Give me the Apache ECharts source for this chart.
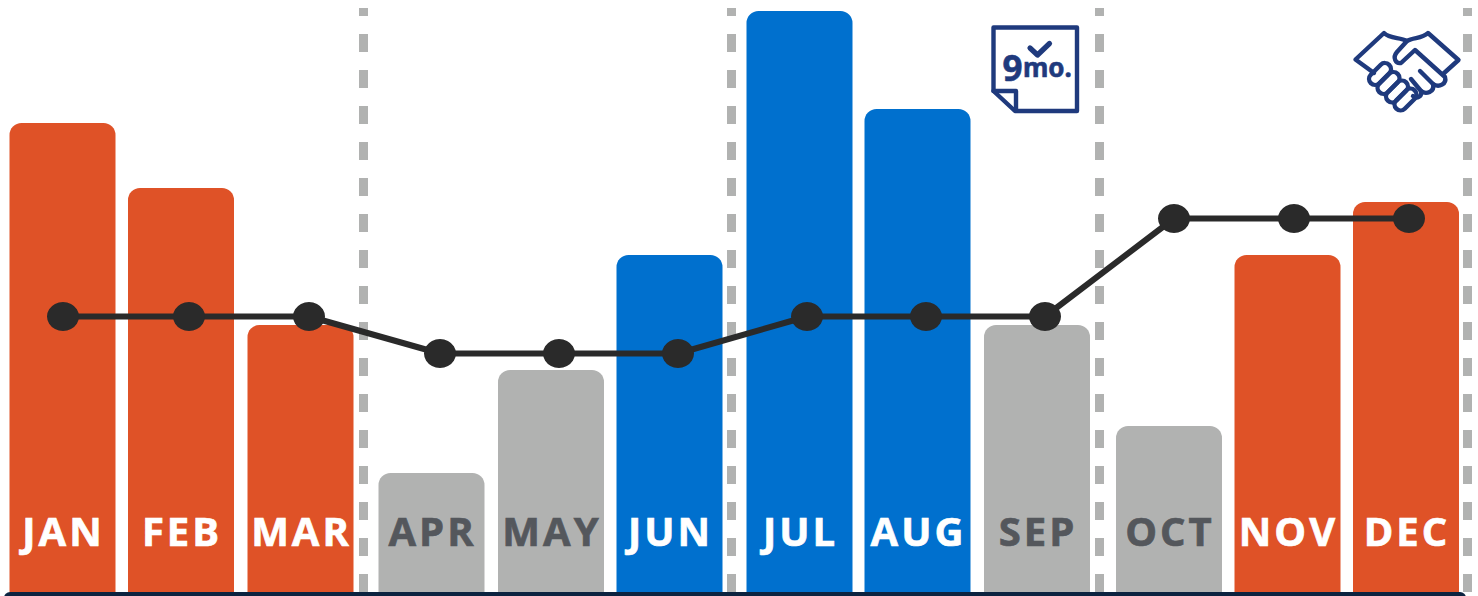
<!DOCTYPE html>
<html>
<head>
<meta charset="utf-8">
<style>
  html, body { margin: 0; padding: 0; background: #fff; }
  #chart { width: 1478px; height: 596px; }
  /* wide tracking for the month names */
  #chart svg text[style*="40px"] { letter-spacing: 3px; stroke-width: 0.7px; paint-order: stroke; }
  #chart svg text[style*="40px"][fill="#FFFFFF"], #chart svg text[style*="40px"][fill="#fff"] { stroke: #FFFFFF; }
  #chart svg text[style*="40px"][fill="#54575C"] { stroke: #54575C; }
</style>
<script src="https://cdn.jsdelivr.net/npm/echarts@6/dist/echarts.min.js"></script>
</head>
<body>
<div id="chart"></div>
<script>
// Monthly values and the stepped level that runs across them
const months = ['JAN','FEB','MAR','APR','MAY','JUN','JUL','AUG','SEP','OCT','NOV','DEC'];
const monthValues = [4.69,4.04,2.67,1.19,2.22,3.37,5.81,4.83,2.67,1.66,3.37,3.90];
const levelValues = [2.755,2.755,2.755,2.385,2.385,2.385,2.755,2.755,2.755,3.735,3.735,3.735];
const monthTiers = ['hot','hot','hot','mid','mid','cool','cool','cool','mid','mid','hot','hot'];

// Horizontal placement along the x axis: months sit in quarter clusters
const barCentres = [62.5,181,300.5,431.5,551,669.5,799.5,917.5,1037,1169,1287.5,1406];
const levelCentres = [63,189,309,440,559,678,807,926,1045,1174,1294,1409];
const quarterBreaks = [363,731,1099,1467];

const tierFill = { hot: '#DF5227', mid: '#B1B2B1', cool: '#0070CE' };
const tierText = { hot: '#FFFFFF', mid: '#54575C', cool: '#FFFFFF' };
const iconBlue = '#1F3A7D';

function capsule(x, y) {
  // finger outline, tilted 45 degrees
  const d = 5, r = 6;
  const ox = r * 0.707, oy = r * 0.707;
  return `M${x-d-ox},${y+d-oy} L${x+d-ox},${y-d-oy} A${r},${r} 0 0 1 ${x+d+ox},${y-d+oy} L${x-d+ox},${y+d+oy} A${r},${r} 0 0 1 ${x-d-ox},${y+d-oy} Z`;
}

function iconStroke(pathData, width) {
  return {
    type: 'path',
    shape: { pathData },
    style: { fill: 'none', stroke: iconBlue, lineWidth: width, lineJoin: 'round', lineCap: 'round' }
  };
}

function iconLabel(text, x, y, fontSize) {
  return {
    type: 'text',
    style: {
      text, x, y, fontFamily: 'Noto Sans', fontWeight: 'bold', fontSize,
      fill: iconBlue, stroke: iconBlue, lineWidth: 0.6
    }
  };
}

function drawIcons() {
  const children = [
    // note with folded corner
    iconStroke('M993.5,27.5 H1077 V111 H1015 L993.5,91 Z', 4.4),
    iconStroke('M993.5,91 H1016 V110', 4.4),
    iconStroke('M1030,48 L1037.5,55 L1049.5,43.5', 5.2),
    iconLabel('9', 1002.5, 50, 35),
    iconLabel('mo.', 1023, 53.5, 26),
    // clasped hands
    iconStroke('M1374,73 L1355.5,59.5 L1384,33 C1390,39 1400,37 1407,41 C1413,37 1422,39 1428,33 L1458.5,60 L1443,74', 4.4),
    iconStroke('M1407,41 L1397,52 C1392,58 1396,64 1401,63 L1415,50 L1445,77 C1447,84 1439,88 1433,84 L1420,71', 4.4),
    iconStroke('M1433,84 C1435,92 1426,95 1421,91 L1411,79', 4.4),
    iconStroke('M1421,91 C1422,97 1417,99 1413,96', 4.4),
    iconStroke(capsule(1380, 74), 4.4),
    iconStroke(capsule(1388.5, 83), 4.4),
    iconStroke(capsule(1397, 91.5), 4.4),
    iconStroke(capsule(1405.5, 99.5), 4.4)
  ];
  return { type: 'group', children };
}

const chart = echarts.init(document.getElementById('chart'), null, { renderer: 'svg' });

chart.setOption({
  animation: false,
  backgroundColor: '#FFFFFF',
  grid: { left: 0, right: 0, top: 0, bottom: 4 },
  xAxis: { type: 'value', min: 0, max: 1478, show: false },
  yAxis: { type: 'value', min: 0, max: 5.92, show: false },
  graphic: [{
    type: 'rect',
    shape: { x: 4, y: 592, width: 1462, height: 8, r: [6, 6, 0, 0] },
    style: { fill: '#0C2340' },
    z: 20
  }],
  series: [
    {
      type: 'bar',
      barWidth: 106,
      z: 2,
      itemStyle: { borderRadius: [12, 12, 0, 0] },
      label: {
        show: true,
        position: 'insideBottom',
        distance: 42,
        offset: [1, 0],
        fontFamily: 'Open Sans',
        fontWeight: 'bold',
        fontSize: 40,
        formatter: p => months[p.dataIndex]
      },
      data: monthValues.map((v, i) => ({
        value: [barCentres[i], v],
        itemStyle: { color: tierFill[monthTiers[i]] },
        label: { color: tierText[monthTiers[i]] }
      })),
      markLine: {
        silent: true,
        symbol: 'none',
        label: { show: false },
        lineStyle: { color: '#B1B2B1', width: 9, type: [18, 18], opacity: 1 },
        data: quarterBreaks.map(x => [{ coord: [x, 0] }, { coord: [x, 5.84] }])
      }
    },
    {
      type: 'line',
      z: 5,
      symbol: 'circle',
      symbolSize: [32, 29],
      lineStyle: { color: '#2A2A2A', width: 6 },
      itemStyle: { color: '#2A2A2A' },
      data: levelValues.map((v, i) => [levelCentres[i], v])
    },
    {
      type: 'custom',
      silent: true,
      clip: false,
      z: 6,
      data: [[0, 0]],
      renderItem: drawIcons
    }
  ]
});
</script>
</body>
</html>
